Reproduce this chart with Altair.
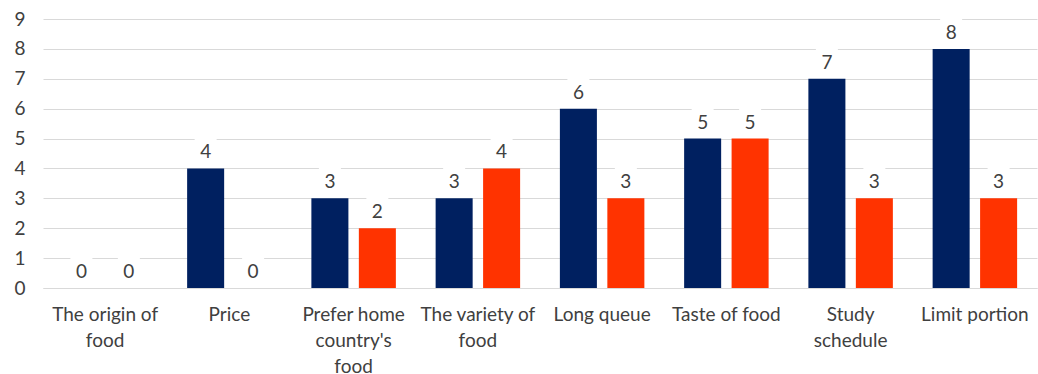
import altair as alt
import pandas as pd

categories = ["The origin of\nfood", "Price", "Prefer home\ncountry's\nfood", "The variety of\nfood",
              "Long queue", "Taste of food", "Study\nschedule", "Limit portion"]
series_names = ["Series A", "Series B"]
series_a = [0, 4, 3, 3, 6, 5, 7, 8]
series_b = [0, 0, 2, 4, 3, 5, 3, 3]
colors = ["#002060", "#FF3300"]

rows = []
for c, a, b in zip(categories, series_a, series_b):
    rows.append({"category": c, "series": series_names[0], "value": a})
    rows.append({"category": c, "series": series_names[1], "value": b})
df = pd.DataFrame(rows)

FONT = "Lato"
TXT = "#404040"
FS = 19

x = alt.X("category:N", sort=categories, title=None,
          scale=alt.Scale(paddingInner=0.32, paddingOuter=0.16),
          axis=alt.Axis(labelAngle=0, labelExpr="split(datum.label, '\\n')",
                        labelFont=FONT, labelFontSize=FS, labelColor=TXT,
                        labelPadding=17, labelLineHeight=26, ticks=False,
                        domainColor="#d9d9d9", domainWidth=1, labelLimit=200))
xo = alt.XOffset("series:N", sort=series_names, scale=alt.Scale(paddingInner=0.22))
yscale = alt.Scale(domain=[0, 9], nice=False)
yaxis = alt.Axis(values=list(range(10)), ticks=False, domain=False,
                 gridColor="#d9d9d9", gridWidth=1, labelOverlap=False,
                 labelFont=FONT, labelFontSize=FS, labelColor=TXT,
                 labelPadding=18)
color = alt.Color("series:N", sort=series_names,
                  scale=alt.Scale(domain=series_names, range=colors), legend=None)

base = alt.Chart(df)
bars = base.mark_bar().encode(
    x=x, xOffset=xo, y=alt.Y("value:Q", title=None, scale=yscale, axis=yaxis), color=color)
bg = base.transform_calculate(lo="datum.value + 0.2", hi="datum.value + 1.05").mark_bar(
    color="white", width=22).encode(
    x=x, xOffset=xo, y=alt.Y("lo:Q", title=None, scale=yscale, axis=yaxis), y2="hi:Q")
labels = base.mark_text(baseline="bottom", dy=-6, font=FONT, fontSize=FS, color=TXT).encode(
    x=x, xOffset=xo, y=alt.Y("value:Q", title=None, scale=yscale, axis=yaxis), text="value:Q")

chart = alt.layer(bars, bg, labels).properties(
    width=994, height=269,
    padding={"left": 43, "top": 19, "right": 1, "bottom": 86},
    autosize=alt.AutoSizeParams(type="none"),
).configure(background="white").configure_view(stroke=None)

chart.save("out.html", embed_options={"renderer": "svg", "actions": False})
